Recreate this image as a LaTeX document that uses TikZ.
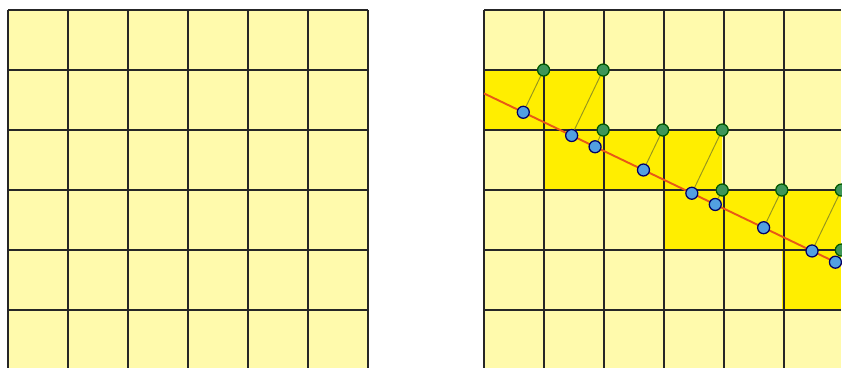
\documentclass[tikz,border=0pt]{standalone}
\usetikzlibrary{calc}
\definecolor{pale}{RGB}{255,250,172}
\definecolor{hilite}{RGB}{255,238,0}
\definecolor{ptgreen}{RGB}{62,150,88}
\definecolor{ptblue}{RGB}{82,160,225}
\definecolor{lineorange}{RGB}{232,88,22}
\definecolor{linkolive}{RGB}{150,150,30}
\tikzset{
  gridline/.style={line width=0.95pt, black!85},
  gpt/.style={circle, fill=ptgreen, draw=black!65!green, line width=0.6pt, inner sep=0pt, minimum size=2mm},
  bpt/.style={circle, fill=ptblue, draw=black!60!blue, line width=0.6pt, inner sep=0pt, minimum size=2mm},
  link/.style={linkolive, line width=0.45pt},
  fitline/.style={lineorange, line width=0.9pt}
}
\begin{document}
\begin{tikzpicture}
\useasboundingbox (0,0) rectangle (14.033,6.117);

% plain grid
\begin{scope}[shift={(0.133,-0.05)}]
  \fill[pale] (0,0) rectangle (6,6);
  \draw[gridline] (0,0) grid (6,6);
\end{scope}

% grid with traversed cells
\begin{scope}[shift={(8.067,-0.05)}, x=0.9925cm]
  \fill[pale] (0,0) rectangle (6,6);
  \foreach \c/\r in {0/4,1/4,1/3,2/3,3/3,3/2,4/2,5/2,5/1}
    \fill[hilite] (\c,\r) rectangle ++(1,1);
  \draw[gridline] (0,0) grid (6,6);

  % the line
  \coordinate (la) at (0,4.61);
  \coordinate (lb) at (6,1.75);
  \draw[fitline] (la) -- (lb);

  % corners and their projections
  \foreach \i/\x/\y in {1/1/5,2/2/5,3/2/4,4/3/4,5/4/4,6/4/3,7/5/3,8/6/3,9/6/2}
    \node[gpt] (g\i) at (\x,\y) {};
  \foreach \i in {1,...,9}{
    \node[bpt] (b\i) at ($(la)!(g\i)!(lb)$) {};
    \draw[link] (g\i) -- (b\i);
  }
\end{scope}
\end{tikzpicture}
\end{document}
